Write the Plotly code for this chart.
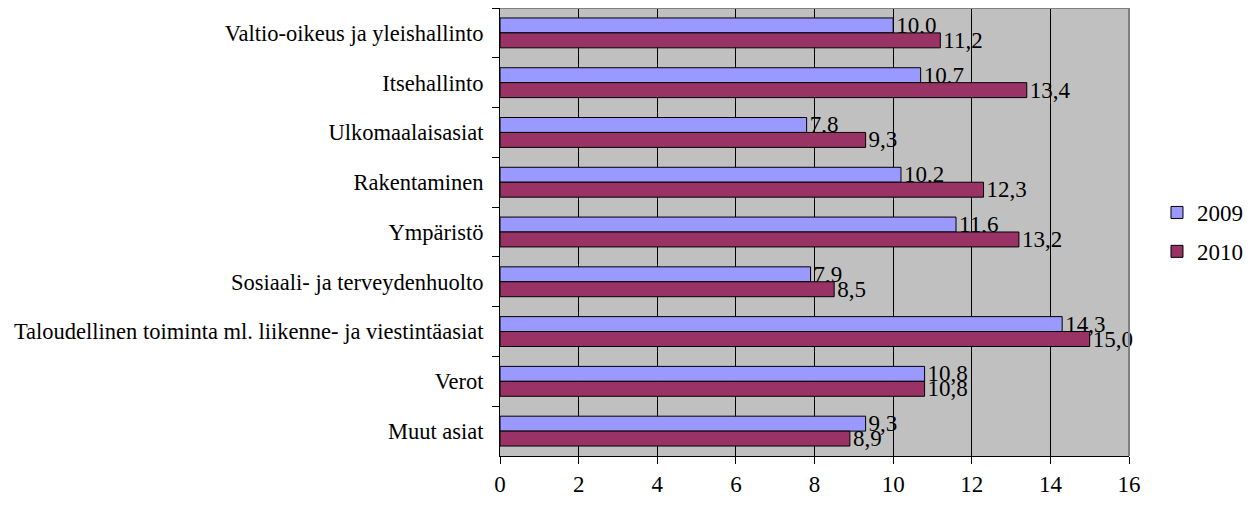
import plotly.graph_objects as go

categories = [
    "Valtio-oikeus ja yleishallinto",
    "Itsehallinto",
    "Ulkomaalaisasiat",
    "Rakentaminen",
    "Ympäristö",
    "Sosiaali- ja terveydenhuolto",
    "Taloudellinen toiminta ml. liikenne- ja viestintäasiat",
    "Verot",
    "Muut asiat",
]
values_2009 = [10.0, 10.7, 7.8, 10.2, 11.6, 7.9, 14.3, 10.8, 9.3]
values_2010 = [11.2, 13.4, 9.3, 12.3, 13.2, 8.5, 15.0, 10.8, 8.9]
series_names = ["2009", "2010"]
x_ticks = [0, 2, 4, 6, 8, 10, 12, 14, 16]

FONT = "Liberation Serif"
FS = 23
FS_CAT = 22.5


def fmt(v):
    return f"{v:.1f}".replace(".", ",")


fig = go.Figure()
for name, vals, color in [
    (series_names[0], values_2009, "#9999FF"),
    (series_names[1], values_2010, "#993366"),
]:
    fig.add_trace(
        go.Bar(
            y=categories,
            x=vals,
            name=name,
            legendgroup=name,
            orientation="h",
            marker=dict(color=color, line=dict(color="black", width=1)),
            text=[fmt(v) for v in vals],
            textposition="outside",
            constraintext="none",
            textfont=dict(family=FONT, size=FS, color="black"),
            cliponaxis=False,
        )
    )

fig.update_layout(
    width=1238,
    height=490,
    margin=dict(l=492, r=117, t=0, b=42, autoexpand=False),
    paper_bgcolor="white",
    plot_bgcolor="#C0C0C0",
    barmode="group",
    bargap=0.4,
    bargroupgap=0,
    font=dict(family=FONT, size=FS, color="black"),
    showlegend=True,
    legend=dict(
        x=1.0445,
        y=0.5,
        xanchor="left",
        yanchor="middle",
        font=dict(family=FONT, size=FS),
        traceorder="grouped",
        itemwidth=30,
        tracegroupgap=6,
    ),
    xaxis=dict(
        range=[0, 16],
        tickvals=x_ticks,
        ticktext=[str(t) for t in x_ticks],
        showgrid=True,
        gridcolor="black",
        gridwidth=1,
        zeroline=False,
        showline=True,
        linecolor="black",
        linewidth=1,
        ticks="outside",
        ticklen=7,
        tickcolor="black",
        tickfont=dict(family=FONT, size=FS),
        automargin=False,
        fixedrange=True,
    ),
    yaxis=dict(
        autorange="reversed",
        showgrid=False,
        showline=True,
        linecolor="black",
        linewidth=1,
        ticks="outside",
        tickson="boundaries",
        ticklen=7,
        tickcolor="black",
        tickfont=dict(family=FONT, size=FS_CAT),
        ticklabelstandoff=11,
        automargin=False,
    ),
)

fig.add_shape(type="line", xref="paper", yref="paper", x0=0, x1=1, y0=1, y1=1,
              line=dict(color="#808080", width=2))
fig.add_shape(type="line", xref="paper", yref="paper", x0=1, x1=1, y0=0, y1=1,
              line=dict(color="#808080", width=2))

fig.write_html("out.html")
